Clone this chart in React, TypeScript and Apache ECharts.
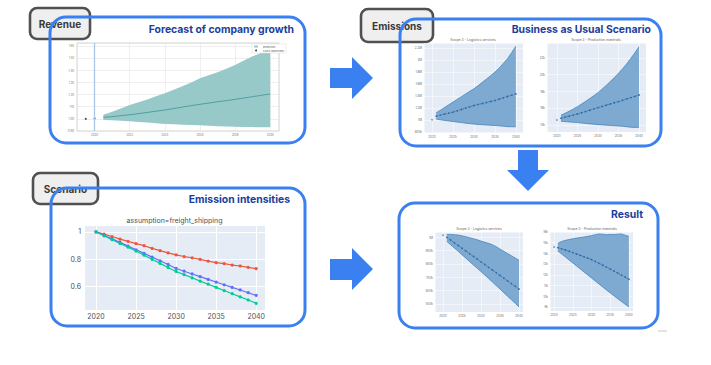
import React, { useEffect, useRef } from "react";
import * as echarts from "echarts";

const FONT = "Inter, 'Noto Sans', sans-serif";

// ---------- Revenue forecast ----------
const revObservedX = [2019.5, 2020];
const revObservedY = [1.0, 1.003];
const revX = [2020.5, 2021, 2021.5, 2022, 2022.5, 2023, 2023.5, 2024, 2024.5, 2025, 2025.5, 2026, 2026.5, 2027, 2027.5, 2028, 2028.5, 2029, 2029.5, 2030];
const revUpper = [1.034, 1.058, 1.085, 1.114, 1.137, 1.16, 1.186, 1.211, 1.24, 1.268, 1.3, 1.334, 1.36, 1.385, 1.413, 1.444, 1.48, 1.515, 1.545, 1.573];
const revLower = [0.991, 0.988, 0.984, 0.98, 0.975, 0.97, 0.964, 0.958, 0.955, 0.952, 0.949, 0.947, 0.944, 0.94, 0.938, 0.935, 0.933, 0.932, 0.931, 0.93];
const revMid = [1.013, 1.018, 1.026, 1.034, 1.043, 1.053, 1.063, 1.073, 1.085, 1.097, 1.109, 1.12, 1.13, 1.141, 1.15, 1.161, 1.172, 1.183, 1.194, 1.205];
const revMarkerYear = 2020;

// ---------- Emission intensities ----------
const intensityYears = [2020, 2021, 2022, 2023, 2024, 2025, 2026, 2027, 2028, 2029, 2030, 2031, 2032, 2033, 2034, 2035, 2036, 2037, 2038, 2039, 2040];
const intensityRed = [1, 0.983, 0.966, 0.947, 0.931, 0.914, 0.899, 0.88, 0.863, 0.847, 0.832, 0.82, 0.811, 0.799, 0.787, 0.775, 0.768, 0.758, 0.751, 0.741, 0.732];
const intensityBlue = [1, 0.975, 0.949, 0.923, 0.896, 0.869, 0.843, 0.816, 0.789, 0.762, 0.733, 0.713, 0.693, 0.673, 0.653, 0.634, 0.614, 0.595, 0.576, 0.556, 0.537];
const intensityGreen = [1, 0.971, 0.943, 0.915, 0.888, 0.86, 0.83, 0.8, 0.77, 0.74, 0.711, 0.688, 0.665, 0.641, 0.618, 0.595, 0.572, 0.549, 0.526, 0.503, 0.479];

// ---------- Emission projections (2021-2040) ----------
const projYears = [2021, 2022, 2023, 2024, 2025, 2026, 2027, 2028, 2029, 2030, 2031, 2032, 2033, 2034, 2035, 2036, 2037, 2038, 2039, 2040];
const startYear = 2020;

// BAU logistics (M)
const bauLogStart = 1.0;
const bauLogUpper = [1.117, 1.16, 1.205, 1.25, 1.295, 1.34, 1.385, 1.43, 1.475, 1.517, 1.57, 1.625, 1.68, 1.735, 1.795, 1.86, 1.94, 2.017, 2.12, 2.228];
const bauLogLower = [1.012, 1.0, 0.99, 0.981, 0.972, 0.962, 0.953, 0.944, 0.936, 0.928, 0.923, 0.918, 0.913, 0.909, 0.905, 0.9, 0.893, 0.885, 0.884, 0.883];
const bauLogMid = [1.062, 1.078, 1.095, 1.111, 1.128, 1.15, 1.172, 1.194, 1.216, 1.238, 1.255, 1.272, 1.288, 1.305, 1.322, 1.344, 1.366, 1.389, 1.411, 1.433];

// BAU production (k)
const bauProdStart = 14.6;
const bauProdUpper = [15.16, 15.4, 15.65, 15.92, 16.19, 16.5, 16.82, 17.15, 17.5, 17.86, 18.28, 18.72, 19.18, 19.66, 20.17, 20.72, 21.3, 21.95, 22.62, 23.35];
const bauProdLower = [14.44, 14.4, 14.36, 14.32, 14.28, 14.23, 14.18, 14.13, 14.09, 14.04, 14.01, 13.98, 13.94, 13.91, 13.88, 13.84, 13.79, 13.72, 13.71, 13.72];
const bauProdMid = [14.8, 14.93, 15.05, 15.18, 15.31, 15.46, 15.61, 15.76, 15.92, 16.07, 16.21, 16.36, 16.5, 16.65, 16.79, 16.95, 17.11, 17.27, 17.42, 17.58];

// Result logistics (M)
const resLogStart = 1.015;
const resLogUpper = [1.022, 1.022, 1.02, 1.017, 1.012, 1.005, 0.997, 0.99, 0.982, 0.972, 0.963, 0.955, 0.945, 0.93, 0.912, 0.895, 0.878, 0.862, 0.845, 0.828];
const resLogLower = [0.97, 0.945, 0.92, 0.895, 0.869, 0.844, 0.818, 0.793, 0.768, 0.743, 0.717, 0.691, 0.665, 0.638, 0.612, 0.585, 0.558, 0.532, 0.505, 0.478];
const resLogMid = [1.0, 0.98, 0.959, 0.939, 0.918, 0.898, 0.877, 0.857, 0.837, 0.816, 0.796, 0.775, 0.755, 0.735, 0.714, 0.694, 0.673, 0.653, 0.633, 0.612];

// Result production (k)
const resProdStart = 14.6;
const resProdUpper = [14.95, 15.12, 15.22, 15.3, 15.37, 15.43, 15.48, 15.53, 15.6, 15.66, 15.75, 15.82, 15.8, 15.74, 15.78, 15.76, 15.8, 15.82, 15.7, 15.6];
const resProdLower = [14.23, 13.95, 13.67, 13.39, 13.11, 12.83, 12.55, 12.27, 11.99, 11.71, 11.43, 11.15, 10.87, 10.59, 10.32, 10.05, 9.78, 9.52, 9.26, 9.0];
const resProdMid = [14.54, 14.43, 14.32, 14.2, 14.08, 13.95, 13.82, 13.69, 13.56, 13.42, 13.25, 13.08, 12.9, 12.72, 12.54, 12.36, 12.17, 11.98, 11.79, 11.59];

const BAND_FILL = "#7eaad1";
const BAND_EDGE = "#3a7cb8";
const MID = "#2b67a3";
const PANEL = "#3b80f0";
const TITLE = "#1d3e9c";

const isMultiple = (v: number, step: number) => Math.abs(v / step - Math.round(v / step)) < 1e-6;
const fmtM = (v: number) => {
  if (!isMultiple(v, 0.1)) return "";
  const r = Math.round(v * 10) / 10;
  return r >= 1 ? `${r}M` : `${Math.round(r * 1000)}k`;
};

function plotlyAxes(grid: number, xr: number[], yr: number[], yFmt: (v: number) => string, ySplit = 5) {
  const x = {
    type: "value", gridIndex: grid, min: xr[0], max: xr[1],
    axisLine: { show: false }, axisTick: { show: false },
    splitLine: { lineStyle: { color: "#ffffff", width: 0.5 } },
    axisLabel: { fontSize: 3, color: "#666", margin: 2, fontFamily: FONT,
      formatter: (v: number) => (isMultiple(v, 5) ? String(Math.round(v)) : "") },
  };
  const y = {
    type: "value", gridIndex: grid, min: yr[0], max: yr[1], splitNumber: ySplit,
    axisLine: { show: false }, axisTick: { show: false },
    splitLine: { lineStyle: { color: "#ffffff", width: 0.5 } },
    axisLabel: { fontSize: 3, color: "#666", margin: 2, fontFamily: FONT, formatter: yFmt },
  };
  return { x, y };
}

function bandSeries(key: string, idx: number, xs: number[], lower: number[], upper: number[], mid: number[] | null, start: number | null, fill: string, edge: string | null, name?: string) {
  const s: any[] = [
    {
      type: "custom", name: name || key + "_band", xAxisIndex: idx, yAxisIndex: idx, silent: true, clip: true,
      itemStyle: { color: fill },
      data: xs.map((x, i) => [x, lower[i], upper[i]]),
      encode: { x: 0, y: [1, 2] },
      renderItem: (params: any, api: any) => {
        if (params.dataIndex !== 0) return null;
        const up = xs.map((x, i) => api.coord([x, upper[i]]));
        const lo = xs.map((x, i) => api.coord([x, lower[i]]));
        const children: any[] = [
          { type: "polygon", shape: { points: up.concat(lo.slice().reverse()) }, style: { fill, stroke: null } },
        ];
        if (edge) {
          children.push({ type: "polyline", shape: { points: up }, style: { stroke: edge, lineWidth: 0.7, fill: null } });
          children.push({ type: "polyline", shape: { points: lo }, style: { stroke: edge, lineWidth: 0.7, fill: null } });
        }
        return { type: "group", children };
      },
    },
  ];
  if (mid) {
    s.push({ type: "line", name: key + "_mid", xAxisIndex: idx, yAxisIndex: idx, symbol: "circle", symbolSize: 1.6,
      data: xs.map((x, i) => [x, mid[i]]), itemStyle: { color: MID },
      lineStyle: { color: MID, width: 0.7, type: [2, 1] }, silent: true, z: 4 });
  }
  if (start !== null) {
    s.push({ type: "scatter", xAxisIndex: idx, yAxisIndex: idx, symbolSize: 1.8, data: [[startYear, start]],
      itemStyle: { color: "#4a86c0" }, silent: true, z: 4 });
  }
  return s;
}

export default function App() {
  const ref = useRef<HTMLDivElement>(null);
  useEffect(() => {
    if (!ref.current) return;
    const chart = echarts.init(ref.current, undefined, { renderer: "svg" });

    const a1 = plotlyAxes(1, [2018.1, 2041.7], [0.78, 2.28], (v) => (isMultiple(v, 0.2) ? fmtM(v) : ""), 7);
    const a2 = plotlyAxes(2, [2017.6, 2041.7], [13.16, 23.79], (v) => (isMultiple(v, 2) ? `${Math.round(v)}k` : ""));
    const a4 = plotlyAxes(4, [2017.9, 2041.05], [0.44, 1.04], fmtM);
    const a5 = plotlyAxes(5, [2018.9, 2041.1], [8.63, 16.0], (v) => (isMultiple(v, 1) ? `${Math.round(v)}k` : ""));

    const revX0 = {
      type: "value", gridIndex: 0, min: 2019, max: 2030.5,
      axisLine: { show: false }, axisTick: { show: false },
      splitLine: { lineStyle: { color: "#e4e4e4", width: 0.6 } },
      axisLabel: { fontSize: 2.8, color: "#777", margin: 2, fontFamily: FONT,
        formatter: (v: number) => (isMultiple(v, 2) ? String(Math.round(v)) : "") },
    };
    const revY0 = {
      type: "value", gridIndex: 0, min: 0.9, max: 1.625, interval: 0.1,
      axisLine: { show: false }, axisTick: { show: false },
      splitLine: { lineStyle: { color: "#e4e4e4", width: 0.6 } },
      axisLabel: { fontSize: 2.8, color: "#777", margin: 3, fontFamily: FONT,
        formatter: (v: number) => (isMultiple(v, 0.1) ? v.toFixed(2) : "") },
    };
    const intX = {
      type: "value", gridIndex: 3, min: 2018.5, max: 2041.1,
      axisLine: { show: false }, axisTick: { show: false },
      splitLine: { lineStyle: { color: "#ffffff", width: 1 } },
      axisLabel: { fontSize: 7, color: "#4a4f5c", margin: 3, fontFamily: FONT,
        formatter: (v: number) => (isMultiple(v, 5) ? String(Math.round(v)) : "") },
    };
    const intY = {
      type: "value", gridIndex: 3, min: 0.43, max: 1.05, splitNumber: 3,
      axisLine: { show: false }, axisTick: { show: false },
      splitLine: { lineStyle: { color: "#ffffff", width: 1 } },
      axisLabel: { fontSize: 7, color: "#4a4f5c", margin: 3, fontFamily: FONT,
        formatter: (v: number) => (isMultiple(v, 0.2) ? String(Math.round(v * 10) / 10) : "") },
    };

    const plotBg = "#e5ecf6";
    const grids = [
      { left: 77, top: 43, width: 202, height: 88, show: true, backgroundColor: "#ffffff", borderColor: "#c9c9c9", borderWidth: 0.8 },
      { left: 424, top: 43, width: 99, height: 90, show: true, backgroundColor: plotBg, borderWidth: 0 },
      { left: 547, top: 43, width: 99, height: 89, show: true, backgroundColor: plotBg, borderWidth: 0 },
      { left: 84, top: 225, width: 181, height: 85, show: true, backgroundColor: plotBg, borderWidth: 0 },
      { left: 435, top: 232, width: 88, height: 80, show: true, backgroundColor: plotBg, borderWidth: 0 },
      { left: 550, top: 232, width: 83, height: 79, show: true, backgroundColor: plotBg, borderWidth: 0 },
    ];

    const intensitySeries = [
      { c: "#ef553b", d: intensityRed },
      { c: "#636efa", d: intensityBlue },
      { c: "#00cc96", d: intensityGreen },
    ].map((s) => ({
      type: "line", xAxisIndex: 3, yAxisIndex: 3, symbol: "circle", symbolSize: 3.2,
      data: intensityYears.map((y, i) => [y, s.d[i]]),
      itemStyle: { color: s.c }, lineStyle: { color: s.c, width: 1.2 }, silent: true,
    }));

    const series: any[] = [
      ...bandSeries("rev", 0, revX, revLower, revUpper, null, null, "#98c9c9", null, "prediction"),
      { type: "line", xAxisIndex: 0, yAxisIndex: 0, symbol: "none", data: revX.map((x, i) => [x, revMid[i]]),
        lineStyle: { color: "#4f9fa2", width: 1 }, silent: true, z: 4 },
      { type: "scatter", name: "Costs (observed)", xAxisIndex: 0, yAxisIndex: 0, symbolSize: 2,
        data: revObservedX.map((x, i) => [x, revObservedY[i]]), itemStyle: { color: "#222" }, silent: true, z: 4,
        markLine: { silent: true, symbol: "none", label: { show: false },
          lineStyle: { color: "#a8c7e6", width: 1.3, type: "solid" }, data: [{ xAxis: revMarkerYear }] } },
      ...bandSeries("bl", 1, projYears, bauLogLower, bauLogUpper, bauLogMid, bauLogStart, BAND_FILL, BAND_EDGE),
      ...bandSeries("bp", 2, projYears, bauProdLower, bauProdUpper, bauProdMid, bauProdStart, BAND_FILL, BAND_EDGE),
      ...intensitySeries,
      ...bandSeries("rl", 4, projYears, resLogLower, resLogUpper, resLogMid, resLogStart, BAND_FILL, BAND_EDGE),
      ...bandSeries("rp", 5, projYears, resProdLower, resProdUpper, resProdMid, resProdStart, BAND_FILL, BAND_EDGE),
    ];

    const panel = (x: number, y: number, w: number, h: number) => ({
      type: "rect", z: 1, shape: { x, y, width: w, height: h, r: 16 },
      style: { fill: "none", stroke: PANEL, lineWidth: 3 }, silent: true,
    });
    const tag = (x: number, y: number, w: number, h: number, text: string) => ({
      type: "group", z: 10, children: [
        { type: "rect", shape: { x, y, width: w, height: h, r: 7 },
          style: { fill: "#efefef", stroke: "#505050", lineWidth: 2.6 } },
        { type: "text", x: x + w / 2, y: y + h / 2 + 0.5,
          style: { text, fill: "#3a3a3a", fontSize: 10, fontWeight: "bold", fontFamily: FONT, align: "center", verticalAlign: "middle" } },
      ],
    });
    const title = (x: number, y: number, text: string) => ({
      type: "text", z: 10, x, y,
      style: { text, fill: TITLE, fontSize: 10.4, fontWeight: "bold", fontFamily: FONT, align: "right", verticalAlign: "middle" },
    });
    const small = (x: number, y: number, text: string, size = 3.4, color = "#666") => ({
      type: "text", z: 10, x, y,
      style: { text, fill: color, fontSize: size, fontFamily: FONT, align: "center", verticalAlign: "middle" },
    });

    const graphic: any[] = [
      panel(50, 17, 255, 126),
      panel(400, 19, 261, 127),
      panel(51, 188, 254, 138),
      panel(399, 203, 259, 125),
      tag(30, 8, 60, 31, "Revenue"),
      tag(361, 9, 72, 33, "Emissions"),
      tag(33, 173, 65, 31, "Scenario"),
      title(294, 29, "Forecast of company growth"),
      title(651, 29, "Business as Usual Scenario"),
      title(290, 199, "Emission intensities"),
      title(643, 214, "Result"),
      small(473, 40, "Scope 3 - Logistics services"),
      small(596, 40, "Scope 3 - Production materials"),
      small(479, 228.5, "Scope 3 - Logistics services"),
      small(592, 228.5, "Scope 3 - Production materials"),
      small(174.5, 220, "assumption=freight_shipping", 7, "#4a4f5c"),
      { type: "polygon", z: 5, shape: { points: [[330, 68], [352, 68], [352, 57], [373, 78], [352, 99], [352, 88], [330, 88]] }, style: { fill: PANEL } },
      { type: "polygon", z: 5, shape: { points: [[330, 259], [352, 259], [352, 248], [373, 269], [352, 290], [352, 280], [330, 280]] }, style: { fill: PANEL } },
      { type: "polygon", z: 5, shape: { points: [[518, 150], [538, 150], [538, 170], [549, 170], [528, 191], [507, 170], [518, 170]] }, style: { fill: PANEL } },
      { type: "line", z: 5, shape: { x1: 658, y1: 331, x2: 667, y2: 331 }, style: { stroke: "#c8c8c8", lineWidth: 1 } },
    ];

    chart.setOption({
      animation: false,
      backgroundColor: "#ffffff",
      textStyle: { fontFamily: FONT },
      grid: grids,
      xAxis: [revX0, a1.x, a2.x, intX, a4.x, a5.x],
      yAxis: [revY0, a1.y, a2.y, intY, a4.y, a5.y],
      legend: {
        data: ["prediction", "Costs (observed)"], orient: "vertical", left: 252, top: 44,
        itemWidth: 4, itemHeight: 2, itemGap: 1, padding: [1, 2, 1, 2],
        backgroundColor: "#ffffff", borderColor: "#dddddd", borderWidth: 0.5,
        textStyle: { fontSize: 2.6, color: "#555", fontFamily: FONT },
      },
      series,
      graphic,
    });
    return () => chart.dispose();
  }, []);
  return <div ref={ref} style={{ position: "absolute", left: 0, top: 0, width: 711, height: 365, background: "#fff" }} />;
}
